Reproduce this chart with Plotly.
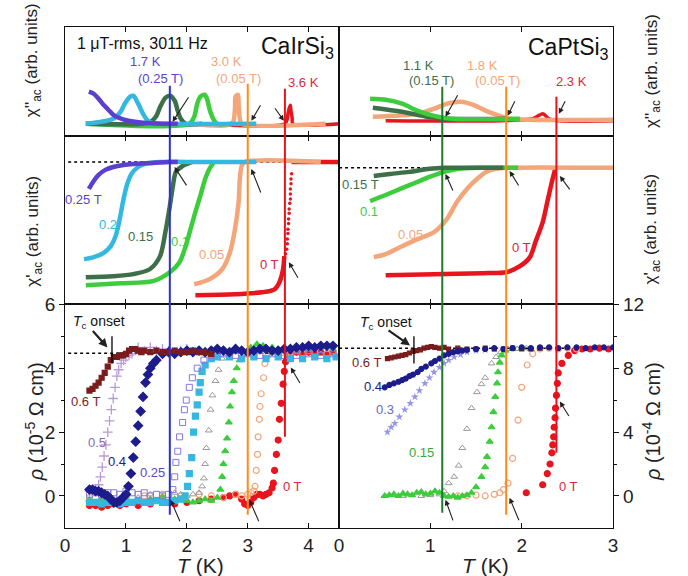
import plotly.graph_objects as go

# ---------------- data ----------------
# chi'' (top panels), arbitrary units
TL_chi2_025_T = [0.39, 0.47, 0.55, 0.63, 0.71, 0.79, 0.88, 1.04, 1.28, 1.60, 1.85]
TL_chi2_025_v = [0.404, 0.385, 0.339, 0.284, 0.239, 0.193, 0.165, 0.138, 0.119, 0.110, 0.110]
TL_chi2_02_T = [0.34, 0.79, 0.91, 0.99, 1.07, 1.12, 1.20, 1.28, 1.36, 1.44, 1.56, 3.14]
TL_chi2_02_v = [0.110, 0.156, 0.220, 0.303, 0.358, 0.367, 0.294, 0.202, 0.138, 0.115, 0.110, 0.110]
TL_chi2_015_T = [0.34, 1.28, 1.41, 1.49, 1.57, 1.65, 1.72, 1.80, 1.85, 1.90, 1.98, 2.25]
TL_chi2_015_v = [0.110, 0.110, 0.130, 0.174, 0.275, 0.349, 0.367, 0.321, 0.229, 0.156, 0.110, 0.110]
TL_chi2_01_T = [0.34, 2.04, 2.12, 2.17, 2.22, 2.29, 2.33, 2.38, 2.45, 2.50, 2.74]
TL_chi2_01_v = [0.110, 0.110, 0.174, 0.294, 0.358, 0.376, 0.339, 0.229, 0.138, 0.110, 0.110]
TL_chi2_005_T = [2.09, 2.74, 2.79, 2.80, 2.84, 2.85, 2.87, 2.90, 4.28]
TL_chi2_005_v = [0.110, 0.110, 0.248, 0.358, 0.376, 0.294, 0.156, 0.110, 0.110]
TL_chi2_0_T = [2.14, 3.61, 3.65, 3.66, 3.68, 3.70, 3.71, 3.73, 3.74, 4.52]
TL_chi2_0_v = [0.110, 0.110, 0.156, 0.200, 0.250, 0.280, 0.230, 0.160, 0.110, 0.110]

TR_chi2_01_T = [0.34, 0.51, 0.69, 0.86, 1.04, 1.23, 1.98]
TR_chi2_01_v = [0.339, 0.330, 0.294, 0.229, 0.183, 0.156, 0.156]
TR_chi2_015_T = [0.37, 0.69, 0.97, 1.15, 1.83]
TR_chi2_015_v = [0.257, 0.220, 0.174, 0.156, 0.156]
TR_chi2_005_T = [0.37, 0.86, 1.04, 1.18, 1.33, 1.47, 1.61, 1.76, 1.87, 3.0]
TR_chi2_005_v = [0.174, 0.202, 0.248, 0.294, 0.312, 0.284, 0.229, 0.183, 0.156, 0.147]
TR_chi2_0_T = [0.51, 1.76, 2.12, 2.23, 2.30, 2.41, 3.0]
TR_chi2_0_v = [0.138, 0.138, 0.156, 0.202, 0.156, 0.138, 0.138]

# chi' (middle panels), arbitrary units
ML_chi1_025_T = [0.39, 0.47, 0.55, 0.66, 0.79, 0.96, 1.12, 1.44, 1.70, 1.85]
ML_chi1_025_v = [0.685, 0.732, 0.768, 0.798, 0.815, 0.827, 0.833, 0.839, 0.845, 0.845]
ML_chi1_02_T = [0.31, 0.47, 0.63, 0.75, 0.83, 0.89, 0.96, 1.02, 1.09, 1.20, 1.36, 1.60, 2.25, 3.14]
ML_chi1_02_v = [0.268, 0.280, 0.304, 0.345, 0.405, 0.494, 0.625, 0.714, 0.774, 0.815, 0.839, 0.845, 0.845, 0.845]
ML_chi1_015_T = [0.34, 0.79, 1.12, 1.39, 1.56, 1.65, 1.72, 1.77, 1.82, 1.93, 2.09]
ML_chi1_015_v = [0.161, 0.167, 0.179, 0.208, 0.286, 0.435, 0.583, 0.702, 0.786, 0.821, 0.845]
ML_chi1_01_T = [0.34, 0.91, 1.44, 1.72, 1.88, 1.98, 2.06, 2.14, 2.22, 2.30, 2.37, 2.45]
ML_chi1_01_v = [0.113, 0.125, 0.137, 0.190, 0.250, 0.345, 0.446, 0.548, 0.643, 0.744, 0.804, 0.845]
ML_chi1_005_T = [2.12, 2.37, 2.58, 2.71, 2.79, 2.85, 2.87, 2.90, 2.95, 4.20]
ML_chi1_005_v = [0.119, 0.149, 0.208, 0.310, 0.446, 0.607, 0.744, 0.821, 0.845, 0.845]
ML_chi1_0_T = [2.14, 2.79, 3.23, 3.44, 3.52, 3.58, 3.60]
ML_chi1_0_v = [0.054, 0.060, 0.071, 0.089, 0.131, 0.208, 0.286]
ML_chi1_0_dotT = [3.62, 3.64, 3.65, 3.65, 3.66, 3.66, 3.67, 3.67, 3.68, 3.68, 3.69, 3.70]
ML_chi1_0_dotv = [0.300, 0.327, 0.360, 0.387, 0.420, 0.446, 0.480, 0.506, 0.540, 0.565, 0.600, 0.625]
ML_chi1_0_dot2T = [3.70, 3.70, 3.71, 3.71, 3.72]
ML_chi1_0_dot2v = [0.655, 0.685, 0.715, 0.744, 0.775]
ML_chi1_0_topT = [3.72, 3.90, 4.10, 4.30, 4.52]
ML_chi1_0_topv = [0.845, 0.845, 0.845, 0.845, 0.845]

MR_chi1_015_T = [0.38, 0.56, 0.77, 0.99, 1.15, 1.31, 1.80]
MR_chi1_015_v = [0.762, 0.774, 0.786, 0.804, 0.810, 0.810, 0.810]
MR_chi1_01_T = [0.34, 0.51, 0.67, 0.83, 0.99, 1.15, 1.31, 1.53, 1.96]
MR_chi1_01_v = [0.613, 0.649, 0.685, 0.720, 0.756, 0.786, 0.804, 0.810, 0.810]
MR_chi1_005_T = [0.38, 0.51, 0.69, 0.86, 1.04, 1.18, 1.29, 1.40, 1.51, 1.61, 1.72, 1.83, 3.0]
MR_chi1_005_v = [0.280, 0.298, 0.345, 0.387, 0.429, 0.506, 0.607, 0.685, 0.744, 0.786, 0.804, 0.810, 0.810]
MR_chi1_0_T = [0.51, 1.04, 1.58, 1.83, 1.98, 2.09, 2.15, 2.23, 2.28, 2.33, 2.37]
MR_chi1_0_v = [0.173, 0.179, 0.185, 0.190, 0.226, 0.280, 0.369, 0.488, 0.607, 0.726, 0.810]

# resistivity, CaIrSi3 (1e-5 Ohm cm)
L_T06 = [0.40, 0.45, 0.50, 0.55, 0.60, 0.65, 0.70, 0.75, 0.80, 0.85, 0.90, 0.95, 1.00, 1.05, 1.10, 1.15,
         1.20, 1.25, 1.30, 1.40, 1.50, 1.60, 1.70, 1.80, 1.90, 2.00, 2.10, 2.20, 2.30, 2.40]
L_r06 = [3.30, 3.35, 3.45, 3.55, 3.70, 3.85, 4.05, 4.25, 4.35, 4.35, 4.40, 4.40, 4.45, 4.55, 4.60, 4.60,
         4.55, 4.50, 4.55, 4.50, 4.55, 4.50, 4.50, 4.55, 4.50, 4.50, 4.55, 4.50, 4.50, 4.45]
L_T05 = [0.40, 0.45, 0.50, 0.55, 0.58, 0.61, 0.64, 0.67, 0.70, 0.73, 0.76, 0.79, 0.82, 0.85, 0.88, 0.92,
         0.96, 1.00, 1.05, 1.10, 1.15, 1.20, 1.30, 1.40, 1.50, 1.60, 1.70, 1.80, 1.90, 2.00]
L_r05 = [0.15, 0.15, 0.20, 0.35, 0.60, 0.90, 1.25, 1.60, 2.00, 2.35, 2.70, 3.05, 3.40, 3.75, 3.95, 4.15,
         4.25, 4.35, 4.40, 4.45, 4.55, 4.65, 4.55, 4.65, 4.55, 4.60, 4.55, 4.50, 4.55, 4.60]
L_T04 = [0.40, 0.45, 0.50, 0.55, 0.60, 0.65, 0.70, 0.75, 0.80, 0.85, 0.90, 0.95, 1.00, 1.04, 1.08, 1.12,
         1.16, 1.20, 1.24, 1.28, 1.32, 1.36, 1.40, 1.45, 1.50, 1.60, 1.70, 1.80, 1.90, 2.00, 2.10, 2.20,
         2.30, 2.40, 2.50, 2.60, 2.70, 2.80, 2.90, 3.00, 3.10, 3.20, 3.30, 3.40, 3.50, 3.60, 3.70, 3.80,
         3.90, 4.00, 4.10, 4.20, 4.30, 4.40]
L_r04 = [0.20, 0.20, 0.15, 0.15, 0.10, 0.05, 0.00, -0.10, -0.20, -0.20, -0.15, -0.05, 0.05, 0.30, 0.70, 1.20,
         1.70, 2.20, 2.65, 3.10, 3.55, 3.80, 4.00, 4.15, 4.25, 4.45, 4.50, 4.45, 4.50, 4.55, 4.50, 4.55,
         4.50, 4.55, 4.60, 4.55, 4.50, 4.60, 4.55, 4.50, 4.55, 4.60, 4.60, 4.55, 4.55, 4.60, 4.60, 4.65,
         4.65, 4.70, 4.65, 4.70, 4.70, 4.70]
L_T025 = [0.40, 0.50, 0.60, 0.70, 0.80, 0.90, 1.00, 1.10, 1.20, 1.30, 1.40, 1.50, 1.60, 1.70, 1.77, 1.80,
          1.82, 1.85, 1.88, 1.93, 1.96, 1.99, 2.04, 2.09, 2.17, 2.28, 2.40, 2.60, 2.80, 3.00, 3.20, 3.40,
          3.60, 3.80, 4.00, 4.20, 4.40]
L_r025 = [0.05, 0.10, 0.05, 0.10, 0.10, 0.05, 0.15, 0.10, 0.05, 0.10, 0.00, 0.05, 0.00, 0.05, 0.20, 0.60,
          1.05, 1.40, 1.85, 2.30, 2.70, 3.00, 3.40, 3.70, 4.00, 4.25, 4.40, 4.45, 4.40, 4.45, 4.40, 4.45,
          4.40, 4.40, 4.45, 4.40, 4.45]
L_T02 = [0.40, 0.50, 0.60, 0.70, 0.80, 0.90, 1.00, 1.10, 1.20, 1.30, 1.40, 1.50, 1.60, 1.70, 1.80, 1.90,
         1.97, 2.01, 2.04, 2.08, 2.11, 2.14, 2.17, 2.20, 2.22, 2.25, 2.30, 2.40, 2.50, 2.70, 2.90, 3.10,
         3.30, 3.50, 3.70, 3.90, 4.10, 4.30, 4.45]
L_r02 = [-0.20, -0.20, -0.25, -0.20, -0.20, -0.25, -0.20, -0.20, -0.15, -0.20, -0.20, -0.15, -0.20, -0.20,
         -0.15, -0.10, 0.00, 0.30, 0.70, 1.20, 2.00, 2.50, 2.85, 3.25, 3.55, 3.90, 4.10, 4.30, 4.35, 4.35,
         4.30, 4.35, 4.30, 4.35, 4.30, 4.30, 4.35, 4.30, 4.35]
L_T015 = [0.40, 0.60, 0.80, 1.00, 1.20, 1.40, 1.60, 1.80, 1.90, 2.00, 2.10, 2.20, 2.25, 2.28, 2.30, 2.32,
          2.36, 2.39, 2.42, 2.47, 2.52, 2.58, 2.65, 2.80, 3.00, 3.20, 3.40, 3.60, 3.80, 4.00, 4.20, 4.40]
L_r015 = [-0.10, -0.05, -0.10, 0.00, -0.05, 0.05, 0.00, 0.10, 0.05, 0.00, 0.05, 0.10, 0.30, 0.55, 1.00,
          1.50, 2.05, 2.70, 3.15, 3.60, 3.95, 4.30, 4.45, 4.50, 4.45, 4.50, 4.50, 4.45, 4.50, 4.50, 4.45, 4.50]
L_T01 = [0.40, 0.60, 0.80, 1.00, 1.20, 1.40, 1.60, 1.80, 2.00, 2.10, 2.20, 2.30, 2.40, 2.50, 2.55, 2.58,
         2.60, 2.63, 2.66, 2.69, 2.71, 2.74, 2.77, 2.82, 2.87, 2.95, 3.05, 3.15, 3.25, 3.40, 3.60, 3.80,
         4.00, 4.20, 4.40]
L_r01 = [-0.15, -0.10, -0.15, -0.10, -0.15, -0.10, -0.05, -0.10, -0.15, -0.20, -0.15, -0.10, -0.15, -0.05,
         0.20, 0.60, 1.00, 1.40, 1.80, 2.30, 2.80, 3.25, 3.60, 4.00, 4.25, 4.50, 4.65, 4.75, 4.70, 4.65,
         4.60, 4.65, 4.60, 4.65, 4.60]
L_T005 = [0.40, 0.70, 1.00, 1.30, 1.60, 1.90, 2.20, 2.40, 2.60, 2.80, 2.90, 3.00, 3.05, 3.10, 3.12, 3.14,
          3.16, 3.17, 3.19, 3.20, 3.22, 3.26, 3.28, 3.33, 3.40, 3.50, 3.70, 3.90, 4.10, 4.30]
L_r005 = [-0.05, 0.00, -0.05, 0.00, 0.05, 0.00, 0.05, 0.00, -0.05, 0.05, 0.00, 0.05, 0.10, 0.15, 0.30, 0.80,
          1.30, 1.85, 2.40, 2.80, 3.20, 3.70, 4.15, 4.40, 4.50, 4.45, 4.50, 4.45, 4.50, 4.45]
L_T0 = [0.40, 0.50, 0.60, 0.70, 0.80, 0.90, 1.00, 1.20, 1.40, 1.60, 1.80, 2.00, 2.20, 2.40, 2.60, 2.70,
        2.80, 2.90, 2.95, 3.00, 3.05, 3.10, 3.15, 3.20, 3.25, 3.30, 3.35, 3.40, 3.42, 3.44, 3.47, 3.50,
        3.52, 3.55, 3.58, 3.60, 3.62, 3.66, 3.70, 3.80, 3.90, 4.00, 4.10, 4.20, 4.30, 4.40]
L_r0 = [-0.30, -0.30, -0.35, -0.30, -0.25, -0.30, -0.25, -0.30, -0.25, -0.20, -0.25, -0.20, -0.15, -0.10,
        -0.05, 0.00, 0.05, -0.10, -0.25, -0.30, -0.20, -0.05, 0.05, 0.05, 0.00, 0.05, 0.10, 0.25, 0.40,
        0.80, 1.30, 1.75, 2.40, 2.90, 3.50, 3.90, 4.20, 4.40, 4.45, 4.50, 4.45, 4.50, 4.45, 4.50, 4.45, 4.50]

# resistivity, CaPtSi3 (1e-4 Ohm cm)
R_T06 = [0.53, 0.57, 0.61, 0.65, 0.69, 0.73, 0.77, 0.81, 0.85, 0.89, 0.93, 0.97, 1.01, 1.05, 1.10, 1.15,
         1.20, 1.30, 1.40, 1.50, 1.60, 1.70, 1.80, 1.90, 2.00, 2.10, 2.20]
R_r06 = [8.60, 8.65, 8.70, 8.75, 8.80, 8.85, 8.95, 9.05, 9.10, 9.15, 9.25, 9.30, 9.35, 9.30, 9.25, 9.30,
         9.20, 9.25, 9.20, 9.20, 9.25, 9.20, 9.20, 9.25, 9.20, 9.20, 9.25]
R_T04 = [0.50, 0.55, 0.60, 0.65, 0.69, 0.73, 0.77, 0.81, 0.86, 0.90, 0.95, 1.01, 1.05, 1.10, 1.15, 1.20,
         1.25, 1.30, 1.35, 1.40, 1.50, 1.60, 1.70, 1.80, 1.90, 2.00, 2.10, 2.20, 2.30, 2.40, 2.50, 2.60,
         2.70, 2.80, 2.90, 3.00]
R_r04 = [6.80, 6.95, 7.05, 7.15, 7.25, 7.35, 7.50, 7.60, 7.75, 7.95, 8.10, 8.30, 8.45, 8.60, 8.80, 8.90,
         9.00, 9.05, 9.10, 9.15, 9.20, 9.20, 9.25, 9.20, 9.25, 9.30, 9.25, 9.30, 9.30, 9.25, 9.30, 9.30,
         9.25, 9.30, 9.30, 9.30]
R_T03 = [0.53, 0.57, 0.61, 0.66, 0.72, 0.78, 0.83, 0.88, 0.94, 0.99, 1.04, 1.10, 1.15, 1.20, 1.26, 1.33,
         1.40, 1.50, 1.60, 1.70]
R_r03 = [4.00, 4.30, 4.55, 4.95, 5.40, 5.80, 6.20, 6.60, 7.05, 7.40, 7.75, 8.05, 8.30, 8.50, 8.70, 8.85,
         9.00, 9.10, 9.15, 9.20]
R_Tgr = [0.50, 0.60, 0.70, 0.80, 0.90, 1.00, 1.10, 1.15, 1.20, 1.26, 1.31, 1.35, 1.40, 1.45, 1.51, 1.56,
         1.60, 1.67, 1.72, 1.77, 1.85, 1.95, 2.05]
R_rgr = [0.00, 0.05, 0.00, 0.05, 0.00, 0.05, 0.10, 0.30, 0.80, 1.20, 1.90, 3.00, 4.20, 5.50, 6.50, 7.00,
         7.40, 8.30, 8.70, 9.00, 9.20, 9.20, 9.25]
R_T015 = [0.50, 0.55, 0.60, 0.65, 0.70, 0.75, 0.80, 0.85, 0.90, 0.95, 1.00, 1.05, 1.10, 1.15, 1.20, 1.25,
          1.30, 1.35, 1.40, 1.45, 1.50, 1.56, 1.60, 1.62, 1.65, 1.67, 1.69, 1.71, 1.73, 1.74, 1.76, 1.78,
          1.82, 1.90, 2.00, 2.10]
R_r015 = [0.00, 0.05, 0.10, 0.00, 0.15, 0.10, 0.05, 0.20, 0.25, 0.10, 0.15, 0.30, 0.20, 0.00, -0.05, 0.00,
          -0.10, 0.00, 0.05, 0.20, 0.55, 1.20, 1.80, 2.45, 3.40, 4.30, 5.25, 6.20, 7.05, 7.75, 8.35, 8.80,
          9.10, 9.20, 9.25, 9.20]
R_T005 = [1.30, 1.40, 1.50, 1.60, 1.70, 1.76, 1.80, 1.85, 1.90, 1.96, 2.00, 2.06, 2.12, 2.20, 2.30, 2.40,
          2.50, 2.60]
R_r005 = [0.00, 0.00, 0.05, 0.00, 0.10, 0.20, 0.40, 0.80, 2.35, 4.75, 6.80, 8.20, 8.90, 9.20, 9.25, 9.20,
          9.25, 9.20]
R_T0 = [2.05, 2.23, 2.28, 2.31, 2.33, 2.34, 2.35, 2.355, 2.365, 2.37, 2.38, 2.39, 2.40, 2.44, 2.51, 2.58,
        2.66, 2.75, 2.85, 2.95]
R_r0 = [0.20, 0.70, 1.40, 2.00, 2.70, 3.20, 3.70, 4.30, 4.90, 5.50, 6.30, 7.05, 7.70, 8.30, 8.80, 9.10,
        9.20, 9.20, 9.25, 9.20]

# transition temperatures marked by vertical lines
Tc_left = [1.72, 3.0, 3.61]
Tc_right = [1.13, 1.83, 2.38]
onset_left = 0.77
onset_right = 0.82
rho_norm_left = 4.47
rho_norm_right = 9.25
chi1_norm_left = 0.845
chi1_norm_right = 0.810

# ---------------- styling ----------------
W, H = 688, 576
FONT = "Liberation Sans, Arial, Helvetica, sans-serif"

def PX(x):
    return x / W

def PY(y):
    # map a target pixel row to paper coordinates (compensates the observed vertical offset)
    yy = (y - 11.5) / 0.98
    return 1 - yy / H

col = dict(
    c025="#5a3fd0", c02="#35b8e0", c015="#3d7049", c01="#3ccc3c", c005="#f2a67a", c0="#e8141e",
    m06="#7a1c1c", m05="#b89ad8", m04="#1c1c8c", sq025="#8878dc", gray="#9a9a9a", m03="#9494e8",
    vblue="#3030d0", vorange="#ff8a1a", vred="#e8101a", vgreen="#1f7a2c",
)

fig = go.Figure()

def line(x, y, c, ax, w=4.5):
    fig.add_trace(go.Scatter(x=x, y=y, mode="lines", line=dict(color=c, width=w, shape="spline", smoothing=0.8),
                             xaxis=ax[0], yaxis=ax[1], hoverinfo="skip", showlegend=False))

def mark(x, y, c, sym, ax, s=6, lw=1.2):
    fig.add_trace(go.Scatter(x=x, y=y, mode="markers",
                             marker=dict(color=c, symbol=sym, size=s, line=dict(color=c, width=lw)),
                             xaxis=ax[0], yaxis=ax[1], hoverinfo="skip", showlegend=False))

TLa, TRa, MLa, MRa, BLa, BRa = ("x5", "y5"), ("x6", "y6"), ("x3", "y3"), ("x4", "y4"), ("x", "y"), ("x2", "y2")

# top left
line(TL_chi2_0_T, TL_chi2_0_v, col["c0"], TLa, 3.5)
line(TL_chi2_005_T, TL_chi2_005_v, col["c005"], TLa)
line(TL_chi2_01_T, TL_chi2_01_v, col["c01"], TLa)
line(TL_chi2_015_T, TL_chi2_015_v, col["c015"], TLa)
line(TL_chi2_02_T, TL_chi2_02_v, col["c02"], TLa)
line(TL_chi2_025_T, TL_chi2_025_v, col["c025"], TLa)
# top right
line(TR_chi2_0_T, TR_chi2_0_v, col["c0"], TRa, 3.5)
line(TR_chi2_005_T, TR_chi2_005_v, col["c005"], TRa)
line(TR_chi2_015_T, TR_chi2_015_v, col["c015"], TRa)
line(TR_chi2_01_T, TR_chi2_01_v, col["c01"], TRa)
# middle left
line(ML_chi1_0_topT, ML_chi1_0_topv, col["c0"], MLa)
line(ML_chi1_0_T, ML_chi1_0_v, col["c0"], MLa)
mark(ML_chi1_0_dotT, ML_chi1_0_dotv, col["c0"], "circle", MLa, 3.5, 0)
mark(ML_chi1_0_dot2T, ML_chi1_0_dot2v, col["c0"], "circle", MLa, 3.5, 0)
line(ML_chi1_005_T, ML_chi1_005_v, col["c005"], MLa)
line(ML_chi1_01_T, ML_chi1_01_v, col["c01"], MLa)
line(ML_chi1_015_T, ML_chi1_015_v, col["c015"], MLa)
line(ML_chi1_02_T, ML_chi1_02_v, col["c02"], MLa)
line(ML_chi1_025_T, ML_chi1_025_v, col["c025"], MLa)
# middle right
line(MR_chi1_0_T, MR_chi1_0_v, col["c0"], MRa)
line(MR_chi1_005_T, MR_chi1_005_v, col["c005"], MRa)
line(MR_chi1_01_T, MR_chi1_01_v, col["c01"], MRa)
line(MR_chi1_015_T, MR_chi1_015_v, col["c015"], MRa)
# bottom left
mark(L_T0, L_r0, col["c0"], "circle", BLa, 6)
mark(L_T005, L_r005, col["c005"], "circle-open", BLa, 6)
mark(L_T01, L_r01, col["c01"], "triangle-up", BLa, 6)
mark(L_T015, L_r015, col["gray"], "triangle-up-open", BLa, 6, 1)
mark(L_T02, L_r02, col["c02"], "square", BLa, 6)
mark(L_T025, L_r025, col["sq025"], "square-open", BLa, 6, 1)
mark(L_T05, L_r05, col["m05"], "cross-thin", BLa, 7, 1.3)
mark(L_T04, L_r04, col["m04"], "diamond", BLa, 7)
mark(L_T06, L_r06, col["m06"], "square", BLa, 5)
# bottom right
mark(R_T0, R_r0, col["c0"], "circle", BRa, 6)
mark(R_T005, R_r005, col["c005"], "circle-open", BRa, 6)
mark(R_Tgr, R_rgr, col["gray"], "triangle-up-open", BRa, 6, 1)
mark(R_T015, R_r015, col["c01"], "triangle-up", BRa, 6)
mark(R_T03, R_r03, col["m03"], "star", BRa, 6, 0)
mark(R_T06, R_r06, col["m06"], "square", BRa, 4)
mark(R_T04, R_r04, col["m04"], "circle", BRa, 5)

# ---------------- axes ----------------
XL = [61 / W, 339 / W]
XR = [339 / W, 617 / W]
YT = [PY(137), PY(28)]
YM = [PY(305), PY(137)]
YB = [PY(528), PY(305)]
LW = 1.2

def xax(dom, rng, anchor, labels):
    return dict(domain=dom, range=rng, anchor=anchor, showline=True, linecolor="#111", linewidth=LW,
                mirror="allticks", ticks="inside", ticklen=5, tickcolor="#111", tickwidth=1.1,
                tickvals=list(range(0, int(rng[1]) + 1)), showgrid=False, zeroline=False,
                showticklabels=labels, tickfont=dict(family=FONT, size=19, color="#222"))

def yblank(dom, anchor):
    return dict(domain=dom, range=[0, 1], anchor=anchor, showline=True, linecolor="#111", linewidth=LW,
                mirror=True, ticks="", showticklabels=False, showgrid=False, zeroline=False)

fig.update_layout(
    width=W, height=H, margin=dict(l=0, r=0, t=0, b=0),
    paper_bgcolor="white", plot_bgcolor="rgba(0,0,0,0)", showlegend=False,
    font=dict(family=FONT, color="#222"),
    xaxis=xax(XL, [0, 4.5], "y", True),
    xaxis2=xax(XR, [0, 3], "y2", True),
    xaxis3=xax(XL, [0, 4.5], "y3", False),
    xaxis4=xax(XR, [0, 3], "y4", False),
    xaxis5=xax(XL, [0, 4.5], "y5", False),
    xaxis6=xax(XR, [0, 3], "y6", False),
    yaxis=dict(domain=YB, range=[-1, 6], anchor="x", side="left", showline=True, linecolor="#111",
               linewidth=LW, mirror=True, ticks="outside", ticklen=5, tickcolor="#111", tickwidth=1.1,
               tickvals=[0, 2, 4, 6], showgrid=False, zeroline=False,
               minor=dict(tickvals=[1, 3, 5], ticklen=3, ticks="outside", tickcolor="#111"),
               tickfont=dict(family=FONT, size=19, color="#222")),
    yaxis2=dict(domain=YB, range=[-2, 12], anchor="x2", side="right", showline=True, linecolor="#111",
                linewidth=LW, mirror=True, ticks="outside", ticklen=5, tickcolor="#111", tickwidth=1.1,
                tickvals=[0, 4, 8, 12], showgrid=False, zeroline=False,
                minor=dict(tickvals=[2, 6, 10], ticklen=3, ticks="outside", tickcolor="#111"),
                tickfont=dict(family=FONT, size=19, color="#222")),
    yaxis3=yblank(YM, "x3"),
    yaxis4=yblank(YM, "x4"),
    yaxis5=yblank(YT, "x5"),
    yaxis6=yblank(YT, "x6"),
)

# ---------------- shapes ----------------
shapes = []
def dotted(xref, yref, x0, x1, y):
    shapes.append(dict(type="line", xref=xref, yref=yref, x0=x0, x1=x1, y0=y, y1=y, layer="below",
                       line=dict(color="black", width=1.5, dash="dot")))

dotted("x3", "y3", 0.05, 4.5, chi1_norm_left)
dotted("x4", "y4", 0, 3.0, chi1_norm_right)
dotted("x", "y", 0.05, 4.5, rho_norm_left)
dotted("x2", "y2", 0, 3.0, rho_norm_right)

def vline(xref, x, ytop, ybot, c):
    shapes.append(dict(type="line", xref=xref, yref="paper", x0=x, x1=x, y0=PY(ybot), y1=PY(ytop),
                       line=dict(color=c, width=2)))

vline("x5", Tc_left[0], 87, 515, col["vblue"])
vline("x5", Tc_left[1], 85, 515, col["vorange"])
vline("x5", Tc_left[2], 90, 437, col["vred"])
vline("x6", Tc_right[0], 88, 513, col["vgreen"])
vline("x6", Tc_right[1], 88, 515, col["vorange"])
vline("x6", Tc_right[2], 98, 453, col["vred"])

shapes.append(dict(type="line", xref="x", yref="y", x0=onset_left, x1=onset_left, y0=4.15, y1=5.0,
                   line=dict(color="black", width=1.3)))
shapes.append(dict(type="line", xref="x2", yref="y2", x0=onset_right, x1=onset_right, y0=8.3, y1=10.0,
                   line=dict(color="black", width=1.3)))
fig.update_layout(shapes=shapes)

# ---------------- annotations ----------------
ann = []
def txt(t, x, y, c="#222", s=13, angle=0):
    ann.append(dict(text=t, x=PX(x), y=PY(y), xref="paper", yref="paper", showarrow=False,
                    font=dict(family=FONT, size=s, color=c), textangle=angle, xanchor="center", yanchor="middle"))

def arrow(hx, hy, tx, ty, w=1.1, hs=1.0):
    ann.append(dict(text="", x=PX(hx), y=PY(hy), xref="paper", yref="paper", showarrow=True,
                    ax=tx - hx, ay=ty - hy, arrowhead=2, arrowsize=hs, arrowwidth=w, arrowcolor="#222",
                    font=dict(size=10)))

txt("1 μT-rms, 3011 Hz", 140, 45, "#111", 16)
txt("CaIrSi<sub>3</sub>", 297, 49, "#111", 23)
txt("CaPtSi<sub>3</sub>", 572, 50, "#111", 23)

txt("1.7 K", 143, 63, col["c025"], 13)
txt("(0.25 T)", 158, 80, col["c025"], 13)
txt("3.0 K", 225, 63, col["c005"], 13)
txt("(0.05 T)", 237, 80, col["c005"], 13)
txt("3.6 K", 303, 84, "#d8283c", 13)
txt("1.1 K", 420, 67, col["c015"], 13)
txt("(0.15 T)", 433, 82, col["c015"], 13)
txt("1.8 K", 485, 67, col["c005"], 13)
txt("(0.05 T)", 500, 82, col["c005"], 13)
txt("2.3 K", 575, 83, "#d8283c", 13)

txt("0.25 T", 80, 200, col["c025"], 13)
txt("0.2", 105, 225, col["c02"], 13)
txt("0.15", 138, 237, col["c015"], 13)
txt("0.1", 178, 242, col["c01"], 13)
txt("0.05", 210, 255, col["c005"], 13)
txt("0 T", 268, 265, "#d8283c", 13)
txt("0.15 T", 361, 186, col["c015"], 13)
txt("0.1", 369, 212, col["c01"], 13)
txt("0.05", 411, 235, col["c005"], 13)
txt("0 T", 524, 248, "#d8283c", 13)

txt("<i>T</i><sub>c</sub> onset", 95, 323, "#111", 14)
txt("<i>T</i><sub>c</sub> onset", 387, 324, "#111", 14)
txt("0.6 T", 82, 402, col["m06"], 13)
txt("0.5", 93, 443, "#8a68b8", 13)
txt("0.4", 114, 462, col["m04"], 13)
txt("0.25", 150, 473, "#5a48c0", 13)
txt("0 T", 292, 487, "#d8283c", 13)
txt("0.6 T", 367, 363, col["m06"], 13)
txt("0.4", 373, 387, col["m04"], 13)
txt("0.3", 386, 410, "#6a6ac0", 13)
txt("0.15", 423, 453, "#3aa83a", 13)
txt("0 T", 572, 487, "#d8283c", 13)

# axis titles
txt("χ''<sub>ac</sub> (arb. units)", 28, 62, "#222", 17, -90)
txt("χ'<sub>ac</sub> (arb. units)", 30, 232, "#222", 17, -90)
txt("<i>ρ</i> (10<sup>-5</sup> Ω cm)", 30, 422, "#222", 20, -90)
txt("χ''<sub>ac</sub> (arb. units)", 657, 72, "#222", 17, -90)
txt("χ'<sub>ac</sub> (arb. units)", 657, 230, "#222", 17, -90)
txt("<i>ρ</i> (10<sup>-4</sup> Ω cm)", 656, 422, "#222", 20, -90)
txt("<i>T</i> (K)", 198, 566, "#222", 21)
txt("<i>T</i> (K)", 488, 566, "#222", 21)

# arrows
arrow(170, 123, 187, 97); arrow(250, 122, 260, 105); arrow(283, 122, 273, 108)
arrow(447, 118, 460, 95); arrow(510, 117, 518, 101); arrow(562, 115, 569, 101)
arrow(172, 168, 185, 188); arrow(250, 170, 260, 195); arrow(288, 263, 298, 280)
arrow(447, 175, 455, 193); arrow(512, 172, 522, 188); arrow(563, 177, 574, 192)
arrow(168, 500, 178, 523); arrow(248, 500, 258, 523); arrow(290, 368, 300, 385)
arrow(447, 500, 455, 522); arrow(512, 498, 522, 522); arrow(563, 402, 573, 418)
arrow(104, 348, 88, 330, 2.2, 0.8); arrow(411, 346, 388, 330, 2.2, 0.8)

fig.update_layout(annotations=ann)
fig.write_html("out.html")
